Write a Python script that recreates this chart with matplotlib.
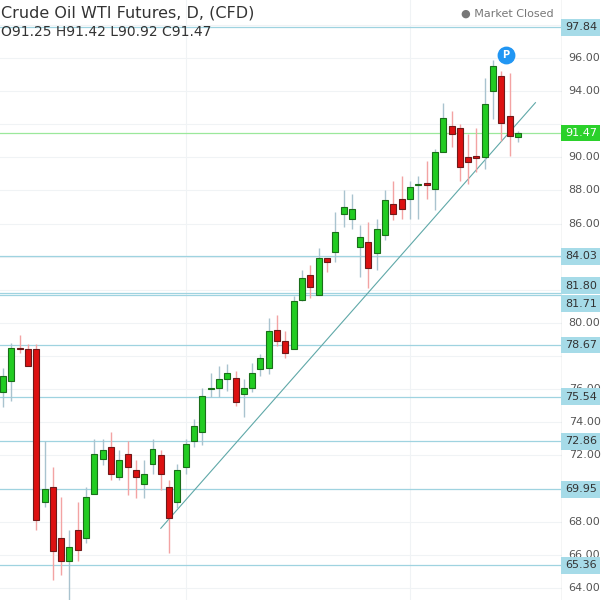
import matplotlib
matplotlib.use("Agg")
import matplotlib.pyplot as plt
import matplotlib.transforms as mtransforms
import numpy as np

# daily candles
opens = [75.8, 76.5, 78.5, 78.4, 78.4, 69.2, 70.1, 67.0, 65.6, 67.5, 67.0, 69.7, 71.8, 72.5, 70.7,
         72.1, 71.1, 70.3, 71.5, 72.0, 70.1, 69.2, 71.3, 72.9, 73.4, 76.0, 76.1, 76.6, 76.7, 75.7,
         76.1, 77.2, 77.3, 79.6, 78.9, 78.4, 81.4, 82.9, 81.7, 83.9, 84.3, 86.6, 86.3, 84.6, 84.9,
         84.2, 85.3, 87.2, 87.5, 87.5, 88.3, 88.45, 88.1, 90.3, 91.9, 91.8, 90.0, 90.1, 90.0, 94.0,
         94.9, 92.5, 91.25]
highs = [77.3, 78.8, 79.3, 78.7, 78.7, 72.9, 71.3, 69.5, 67.5, 69.2, 70.1, 73.0, 73.0, 73.4, 72.3,
         72.9, 71.7, 71.7, 73.0, 72.3, 70.5, 71.5, 73.0, 74.2, 76.1, 77.0, 77.4, 77.5, 77.1, 76.6,
         77.6, 78.1, 80.3, 80.5, 79.5, 81.6, 83.2, 83.5, 84.5, 83.9, 86.7, 88.0, 87.8, 85.9, 86.1,
         86.3, 88.0, 88.6, 88.9, 88.6, 88.9, 89.8, 90.5, 93.3, 92.8, 92.0, 91.4, 91.8, 94.8, 95.9,
         95.2, 95.1, 91.6]
lows = [74.9, 75.3, 78.2, 77.4, 67.5, 68.9, 64.5, 64.8, 63.3, 65.6, 66.7, 69.7, 71.4, 70.5, 70.5,
        69.6, 69.4, 69.4, 70.9, 69.9, 66.1, 68.8, 70.9, 72.5, 72.6, 75.5, 75.5, 75.9, 75.0, 74.3,
        75.8, 76.8, 76.9, 78.6, 77.9, 78.4, 81.3, 81.5, 81.7, 83.1, 83.7, 85.8, 85.7, 82.8, 82.1,
        83.2, 85.0, 86.2, 86.3, 86.3, 86.3, 87.5, 86.8, 90.3, 90.6, 88.6, 88.4, 89.1, 89.3, 92.3,
        91.0, 90.1, 90.92]
closes = [76.8, 78.5, 78.4, 77.4, 68.1, 69.97, 66.2, 65.6, 66.5, 66.3, 69.5, 72.1, 72.3, 70.9, 71.7,
          71.3, 70.7, 70.9, 72.4, 70.9, 68.2, 71.1, 72.7, 73.8, 75.6, 76.05, 76.6, 77.0, 75.2, 76.1,
          77.0, 77.9, 79.5, 78.9, 78.2, 81.3, 82.7, 82.2, 83.9, 83.7, 85.5, 87.0, 86.9, 85.2, 83.3,
          85.7, 87.4, 86.6, 86.9, 88.2, 88.35, 88.35, 90.3, 92.4, 91.4, 89.4, 89.7, 89.95, 93.2, 95.5,
          92.1, 91.3, 91.47]

levels = [97.84, 84.03, 81.80, 81.71, 78.67, 75.54, 72.86, 69.95, 65.36]
last_price = 91.47
axis_ticks = [64, 66, 68, 72, 74, 76, 80, 86, 88, 90, 94, 96]
trend_x = [19.0, 64.1]
trend_y = [67.6, 93.3]

fig = plt.figure(figsize=(6.12, 6.0), dpi=100)
ax = fig.add_axes([0, 0, 562 / 612, 1])
ax.set_xlim(-0.36, 67.3)
ax.set_ylim(63.27, 99.5)

for t in range(64, 99, 2):
    ax.axhline(t, color="#f0f3f5", lw=0.8, zorder=0)
for gx in [22, 49]:
    ax.axvline(gx, color="#f0f3f5", lw=0.8, zorder=0)

for lv in levels:
    ax.axhline(lv, color="#9fd3e0", lw=0.9, zorder=1)
ax.axhline(last_price, color="#9be89b", lw=0.9, zorder=1)

ax.plot(trend_x, trend_y, color="#5fa8a8", lw=0.8, zorder=2)

o = np.array(opens); h = np.array(highs); l = np.array(lows); c = np.array(closes)
x = np.arange(len(o))
up = c >= o
ax.vlines(x[up], l[up], h[up], color="#a9c3cf", lw=1, zorder=3)
ax.vlines(x[~up], l[~up], h[~up], color="#f3a3a3", lw=1, zorder=3)
body = np.maximum(np.abs(c - o), 0.08)
bottom = np.minimum(o, c)
ax.bar(x[up], body[up], bottom=bottom[up], width=0.72, color="#22cc22",
       edgecolor="#1a6e1a", lw=0.8, zorder=4)
ax.bar(x[~up], body[~up], bottom=bottom[~up], width=0.72, color="#dd1111",
       edgecolor="#6e1a1a", lw=0.8, zorder=4)

ax.axis("off")
ax.axvline(67.3, color="#c8ccd0", lw=1)

# price scale
tr = mtransforms.blended_transform_factory(ax.transAxes, ax.transData)
for t in axis_ticks:
    ax.text(1.012, t, f"{t:.2f}", transform=tr, va="center", ha="left",
            fontsize=8, color="#555555", clip_on=False)
for lv in levels:
    ypos = lv
    if lv == 81.80:
        ypos = lv + 0.45
    elif lv == 81.71:
        ypos = lv - 0.55
    ax.text(1.005, ypos, f"{lv:.2f}", transform=tr, va="center", ha="left",
            fontsize=8, color="#333333", clip_on=False,
            bbox=dict(boxstyle="square,pad=0.3", fc="#a6dbe8", ec="none"))
ax.text(1.005, last_price, f"{last_price:.2f}", transform=tr, va="center", ha="left",
        fontsize=8, color="white", clip_on=False,
        bbox=dict(boxstyle="square,pad=0.3", fc="#2bd12b", ec="none"))

# marker P
ax.scatter([60.5], [96.2], s=140, color="#2196f3", zorder=6)
ax.text(60.5, 96.2, "P", color="white", fontsize=7, fontweight="bold",
        ha="center", va="center", zorder=7)

fig.text(0.002, 0.978, "Crude Oil WTI Futures, D, (CFD)", fontsize=11.5,
         color="#333333", va="center")
fig.text(0.002, 0.946, f"O{opens[-1]:.2f} H{91.42:.2f} L{lows[-1]:.2f} C{closes[-1]:.2f}",
         fontsize=10, color="#333333", va="center")
fig.text(0.905, 0.978, "● Market Closed", fontsize=8, color="#777777",
         va="center", ha="right")

fig.savefig("out.png", dpi=100)
